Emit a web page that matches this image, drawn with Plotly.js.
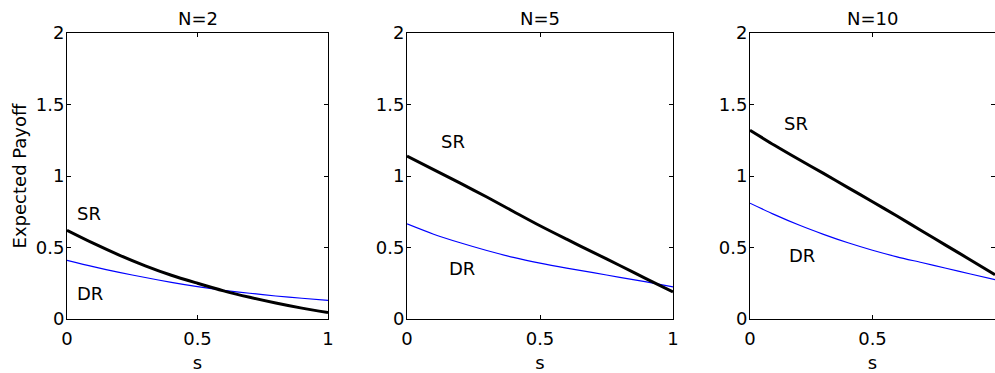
<!DOCTYPE html>
<html>
<head>
<meta charset="utf-8">
<script src="https://cdn.plot.ly/plotly-3.0.1.min.js"></script>
<style>
html,body{margin:0;padding:0;overflow:hidden;background:#fff;}
#chart{width:995px;height:373px;}
</style>
</head>
<body>
<div id="chart"></div>
<script>
const s = [0, 0.1, 0.2, 0.3, 0.4, 0.5, 0.6, 0.7, 0.8, 0.9, 1.0];
const panelTitles = ["N=2", "N=5", "N=10"];
const sr_N2  = [0.62, 0.53, 0.447, 0.372, 0.306, 0.25, 0.197, 0.152, 0.112, 0.076, 0.045];
const dr_N2  = [0.41, 0.366, 0.326, 0.29, 0.256, 0.226, 0.201, 0.18, 0.161, 0.145, 0.13];
const sr_N5  = [1.14, 1.045, 0.95, 0.853, 0.752, 0.652, 0.558, 0.466, 0.374, 0.281, 0.19];
const dr_N5  = [0.665, 0.593, 0.533, 0.479, 0.431, 0.391, 0.356, 0.324, 0.291, 0.259, 0.225];
const sr_N10 = [1.32, 1.215, 1.115, 1.018, 0.919, 0.82, 0.72, 0.617, 0.515, 0.413, 0.31];
const dr_N10 = [0.81, 0.73, 0.657, 0.592, 0.533, 0.481, 0.435, 0.395, 0.355, 0.315, 0.275];
const xTicks = [0, 0.5, 1];
const xTickText = ["0", "0.5", "1"];
const yTicks = [0, 0.5, 1, 1.5, 2];
const yTickText = ["0", "0.5", "1", "1.5", "2"];
// label positions (data coords) for SR / DR text
const srLabel = [[0.03, 0.74], [0.12, 1.24], [0.13, 1.37]];
const drLabel = [[0.03, 0.18], [0.15, 0.355], [0.15, 0.447]];

const W = 995, H = 373;
const xDomains = [[67/W, 328/W], [407/W, 673/W], [750/W, 1]];
const yDomain = [1 - 319/H, 1 - 33/H];
const FONT = {family: "DejaVu Sans, Arial, sans-serif", size: 18, color: "#000"};

const srData = [sr_N2, sr_N5, sr_N10];
const drData = [dr_N2, dr_N5, dr_N10];

const traces = [];
const layout = {
  width: W, height: H,
  margin: {l: 0, r: 0, t: 0, b: 0},
  paper_bgcolor: "#fff", plot_bgcolor: "#fff",
  showlegend: false,
  font: FONT,
  annotations: []
};

const titleX = [(67 + 328) / 2 / W, (407 + 673) / 2 / W, (750 + 872.5) / 2 / W * 1];

for (let i = 0; i < 3; i++) {
  const suf = i === 0 ? "" : String(i + 1);
  const xa = "x" + suf, ya = "y" + suf;
  traces.push({x: s, y: drData[i], xaxis: xa, yaxis: ya, mode: "lines",
    line: {color: "#0000ff", width: 1.2, shape: "spline", smoothing: 0.8}, hoverinfo: "skip"});
  traces.push({x: s, y: srData[i], xaxis: xa, yaxis: ya, mode: "lines",
    line: {color: "#000000", width: 3, shape: "spline", smoothing: 0.8}, hoverinfo: "skip"});
  const common = {showline: true, linecolor: "#000", linewidth: 1, mirror: "ticks",
    ticks: "inside", ticklen: 4, tickcolor: "#000", tickwidth: 1,
    showgrid: false, zeroline: false, tickfont: FONT, fixedrange: true};
  layout["xaxis" + suf] = Object.assign({}, common, {
    domain: xDomains[i], range: [0, 1], anchor: ya,
    tickvals: xTicks, ticktext: xTickText, ticklabelstandoff: 3,
    title: {text: "s", font: FONT, standoff: 10}
  });
  layout["yaxis" + suf] = Object.assign({}, common, {
    domain: yDomain, range: [0, 2], anchor: xa,
    tickvals: yTicks, ticktext: yTickText, ticklabelstandoff: -2,
    title: i === 0 ? {text: "Expected Payoff", font: FONT, standoff: 4} : {text: ""}
  });
  layout.annotations.push({xref: "paper", yref: "paper",
    x: i === 2 ? (750 + 872.5 + 0) / 2 / W + 61 / W : titleX[i],
    y: 1 - 18 / H, text: panelTitles[i], showarrow: false, font: FONT,
    xanchor: "center", yanchor: "middle"});
  layout.annotations.push({xref: xa, yref: ya, x: srLabel[i][0], y: srLabel[i][1],
    text: "SR", showarrow: false, font: FONT, xanchor: "left", yanchor: "middle"});
  layout.annotations.push({xref: xa, yref: ya, x: drLabel[i][0], y: drLabel[i][1],
    text: "DR", showarrow: false, font: FONT, xanchor: "left", yanchor: "middle"});
}
layout.annotations[6].x = 872.5 / W;

Plotly.newPlot("chart", traces, layout, {staticPlot: true, displayModeBar: false});
</script>
</body>
</html>
